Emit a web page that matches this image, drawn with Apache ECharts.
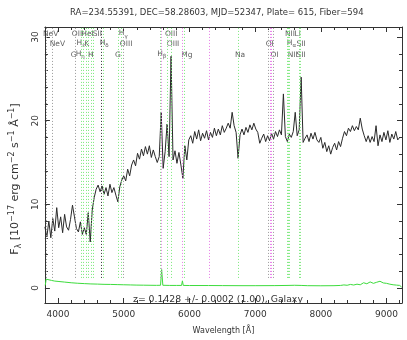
<!DOCTYPE html>
<html>
<head>
<meta charset="utf-8">
<script src="https://cdn.jsdelivr.net/npm/echarts@6/dist/echarts.min.js"></script>
<style>
  html, body { margin: 0; padding: 0; background: #fff; }
  #chart { width: 407px; height: 340px; }
</style>
</head>
<body>
<div id="chart"></div>
<script>
// spectrum sampled on a regular wavelength grid (Angstrom)
const waveStart = 3800;
const waveStep = 30;
const flux = [
  7.3, 6.1, 8.0, 6.0, 8.3, 6.8, 9.6, 7.2, 8.5, 6.6,
  8.8, 7.3, 6.9, 8.2, 9.9, 8.5, 7.1, 6.7, 7.9, 6.4,
  7.2, 6.4, 9.0, 5.5, 9.3, 10.8, 11.8, 12.3, 11.5, 12.2,
  11.2, 12.0, 11.0, 12.4, 11.4, 12.0, 11.1, 10.3, 12.1, 12.9,
  13.4, 12.8, 14.2, 13.4, 14.7, 15.3, 14.6, 16.1, 15.4, 16.6,
  15.8, 16.9, 16.0, 17.0, 15.6, 16.5, 15.7, 15.0, 15.7, 21.0,
  14.3, 16.3, 19.6, 15.7, 27.7, 15.3, 16.4, 14.9, 16.2, 14.7,
  13.1, 17.0, 15.3, 17.7, 18.2, 17.3, 18.7, 17.8, 18.9, 17.6,
  18.5, 17.9, 18.8, 17.7, 18.6, 18.0, 19.1, 18.2, 19.0, 18.3,
  19.4, 18.6, 19.1, 19.7, 19.1, 21.0, 19.4, 18.6, 15.5, 18.3,
  19.0, 18.3, 19.2, 18.6, 19.5, 18.9, 19.7, 19.0, 18.6, 17.3,
  17.9, 18.4, 17.5, 18.2, 17.6, 18.5, 17.8, 18.7, 18.1, 18.9,
  18.3, 23.2, 18.1, 17.5, 18.4, 18.0, 18.7, 21.0, 18.2, 18.9,
  25.2, 17.4, 17.9, 18.3, 17.5, 18.5, 17.8, 18.6, 17.7, 17.4,
  18.0, 16.7, 17.4, 16.3, 17.0, 16.0, 16.8, 17.3, 16.5, 17.5,
  16.9, 17.9, 18.7, 18.2, 19.1, 18.7, 19.4, 18.8, 19.3, 18.9,
  20.3, 19.0, 18.2, 17.5, 18.2, 17.4, 18.1, 17.5, 19.4, 17.0,
  18.3, 17.5, 18.6, 17.7, 18.8, 17.4, 18.4, 17.8, 18.7, 17.7,
  18.0
];

// error spectrum (green)
const noiseWave = [3805, 3820, 3850, 3900, 3950, 4000, 4100, 4200, 4300, 4400,
  4500, 4600, 4700, 4800, 4900, 5000, 5100, 5200, 5300, 5400,
  5500, 5560, 5577, 5595, 5700, 5800, 5880, 5893, 5906, 6000,
  6290, 6300, 6310, 6500, 6800, 7000, 7300, 7500, 7600, 7700,
  7800, 8000, 8200, 8300, 8350, 8400, 8450, 8500, 8550, 8600,
  8650, 8700, 8750, 8800, 8850, 8900, 8950, 9000, 9050, 9100,
  9150, 9200, 9230];
const noiseFlux = [0.3, 1.05, 0.95, 0.9, 0.82, 0.78, 0.7, 0.62, 0.56, 0.52,
  0.48, 0.46, 0.43, 0.42, 0.4, 0.38, 0.36, 0.34, 0.33, 0.32,
  0.31, 0.32, 2.2, 0.32, 0.3, 0.3, 0.3, 0.85, 0.3, 0.29,
  0.29, 0.45, 0.29, 0.28, 0.27, 0.27, 0.28, 0.3, 0.32, 0.3,
  0.27, 0.26, 0.27, 0.3, 0.36, 0.32, 0.42, 0.35, 0.45, 0.38,
  0.62, 0.5, 0.72, 0.55, 0.68, 0.8, 0.6, 0.55, 0.45, 0.38,
  0.34, 0.3, 0.1];

// redshifted line markers: [wavelength, kind]
const lineMarks = [
  [3824, 'grey'], [3915, 'grey'], [4259, 'grey'],
  [4351, 'green'], [4385, 'green'], [4424, 'green'], [4458, 'green'], [4505, 'green'], [4540, 'green'],
  [4654, 'black'], [4688, 'green'], [4918, 'green'], [4960, 'green'], [4986, 'grey'],
  [5555, 'green'], [5577, 'pink'], [5667, 'green'], [5722, 'green'],
  [5890, 'pink'], [5914, 'green'], [6300, 'pink'], [6736, 'green'],
  [7200, 'grey'], [7235, 'pink'], [7250, 'pink'], [7272, 'grey'],
  [7483, 'green'], [7500, 'green'], [7523, 'green'], [7675, 'green'], [7692, 'green']
];
const markColors = { grey: '#9a9a9a', black: '#333333', green: '#7be87b', pink: '#e77be7' };

// line labels: [text, wavelength of left edge, row]
const lineLabels = [
  ['NeV', 3770, 0], ['OII', 4209, 0], ['HeI', 4355, 0], ['SII', 4530, 0], ['{m|H}{g|γ}', 4925, 0],
  ['OIII', 5626, 0], ['NII', 7453, 0], ['Li', 7599, 0],
  ['NeV', 3873, 1], ['{m|H}{g|ε}', 4282, 1], ['K', 4399, 1], ['{m|H}{g|δ}', 4633, 1], ['OIII', 4940, 1],
  ['OIII', 5655, 1], ['OI', 7160, 1], ['{m|H}{g|α}', 7482, 1], ['SII', 7628, 1],
  ['G', 4194, 2], ['{m|H}{g|η}', 4268, 2], ['H', 4457, 2], ['G', 4867, 2], ['{m|H}{g|β}', 5509, 2],
  ['Mg', 5875, 2], ['Na', 6693, 2], ['OI', 7233, 2], ['NII', 7496, 2], ['SII', 7628, 2]
];
const rowY = [30.35, 29.2, 27.9];

const XMIN = 3800, XMAX = 9235, YMIN = -1.8, YMAX = 31.2;
const FONT = 'DejaVu Sans';
const INK = '#333';

const spectrum = flux.map((f, i) => [waveStart + i * waveStep, f]);
const noise = noiseWave.map((w, i) => [w, noiseFlux[i]]);
const markData = lineMarks.map(([w, kind]) => [
  { coord: [w, 1.2], lineStyle: { color: markColors[kind] } },
  { coord: [w, YMAX] }
]);

const chart = echarts.init(document.getElementById('chart'));

const tickStyle = { lineStyle: { color: INK, width: 1 } };
function xAxisBase(pos, showLabel) {
  return {
    type: 'value', position: pos, min: XMIN, max: XMAX, splitNumber: 5,
    axisLine: { onZero: false, lineStyle: { color: INK, width: 1 } },
    axisTick: { show: true, inside: true, length: 5, ...tickStyle },
    minorTick: { show: true, splitNumber: 5, length: 3, ...tickStyle },
    splitLine: { show: false },
    axisLabel: {
      show: showLabel, margin: 7, showMinLabel: false, showMaxLabel: false,
      color: INK, fontFamily: FONT, fontSize: 9,
      formatter: v => String(v)
    }
  };
}
function yAxisBase(pos, showLabel) {
  return {
    type: 'value', position: pos, min: YMIN, max: YMAX, splitNumber: 3,
    axisLine: { onZero: false, lineStyle: { color: INK, width: 1 } },
    axisTick: { show: true, inside: true, length: 5, ...tickStyle },
    minorTick: { show: true, splitNumber: 5, length: 3, ...tickStyle },
    splitLine: { show: false },
    axisLabel: {
      show: showLabel, rotate: 90, margin: 5, showMinLabel: false, showMaxLabel: false,
      color: INK, fontFamily: FONT, fontSize: 9
    }
  };
}

const xBottom = xAxisBase('bottom', true);
xBottom.name = 'Wavelength [Å]';
xBottom.nameLocation = 'middle';
xBottom.nameGap = 24;
xBottom.nameTextStyle = { color: INK, fontFamily: FONT, fontSize: 8 };

const yLeft = yAxisBase('left', true);
yLeft.name = '{m|F}{d|λ}{m| [10}{u|−17}{m| erg cm}{u|−2}{m| s}{u|−1}{m| Å}{u|−1}{m|]}';
yLeft.nameLocation = 'middle';
yLeft.nameRotate = 90;
yLeft.nameGap = 14;
yLeft.nameTextStyle = {
  color: INK, fontFamily: FONT, padding: [0, 28, 0, 0],
  rich: {
    m: { fontFamily: FONT, color: INK, fontSize: 11, height: 11, padding: [3, 0, 0, 0], verticalAlign: 'top' },
    u: { fontFamily: FONT, color: INK, fontSize: 8, height: 8, padding: [1, 0, 0, 0], verticalAlign: 'top' },
    d: { fontFamily: FONT, color: INK, fontSize: 8, height: 8, padding: [8, 0, 0, 0], verticalAlign: 'top' }
  }
};

const option = {
  animation: false,
  backgroundColor: '#fff',
  title: {
    text: 'RA=234.55391, DEC=58.28603, MJD=52347, Plate= 615, Fiber=594',
    left: 65, top: 3,
    textStyle: { color: INK, fontFamily: FONT, fontSize: 8.5, fontWeight: 'normal' }
  },
  grid: { left: 30, right: 5, top: 27, bottom: 33 },
  xAxis: [xBottom, xAxisBase('top', false)],
  yAxis: [yLeft, yAxisBase('right', false)],
  graphic: [{
    type: 'text', left: 133, top: 295, silent: true,
    style: { text: 'z= 0.1428 +/- 0.0002 (1.00), Galaxy', fill: INK, font: '9.3px "DejaVu Sans"' }
  }],
  series: [
    {
      name: 'markers', type: 'line', data: [], z: 1, silent: true,
      markLine: {
        silent: true, symbol: ['none', 'none'], animation: false,
        label: { show: false },
        lineStyle: { type: [1, 2], width: 1 },
        data: markData
      }
    },
    {
      name: 'error', type: 'line', data: noise, z: 2, showSymbol: false, silent: true,
      lineStyle: { color: '#3ddc3d', width: 1 }
    },
    {
      name: 'flux', type: 'line', data: spectrum, z: 3, showSymbol: false, silent: true,
      sampling: 'none',
      lineStyle: { color: '#2a2a2a', width: 1 }
    },
    {
      name: 'labels', type: 'scatter', z: 4, silent: true, clip: false,
      symbolSize: 0,
      data: lineLabels.map(([t, w, row]) => ({ value: [w, rowY[row]], label: { formatter: t } })),
      label: {
        show: true, position: 'right', distance: 0,
        color: INK, fontFamily: FONT, fontSize: 7.5,
        rich: {
          m: { fontFamily: FONT, color: INK, fontSize: 7.5, height: 8, verticalAlign: 'top' },
          g: { fontFamily: FONT, color: INK, fontSize: 5.5, height: 6, padding: [4, 0, 0, 0], verticalAlign: 'top' }
        }
      }
    }
  ]
};

chart.setOption(option);
</script>
</body>
</html>
